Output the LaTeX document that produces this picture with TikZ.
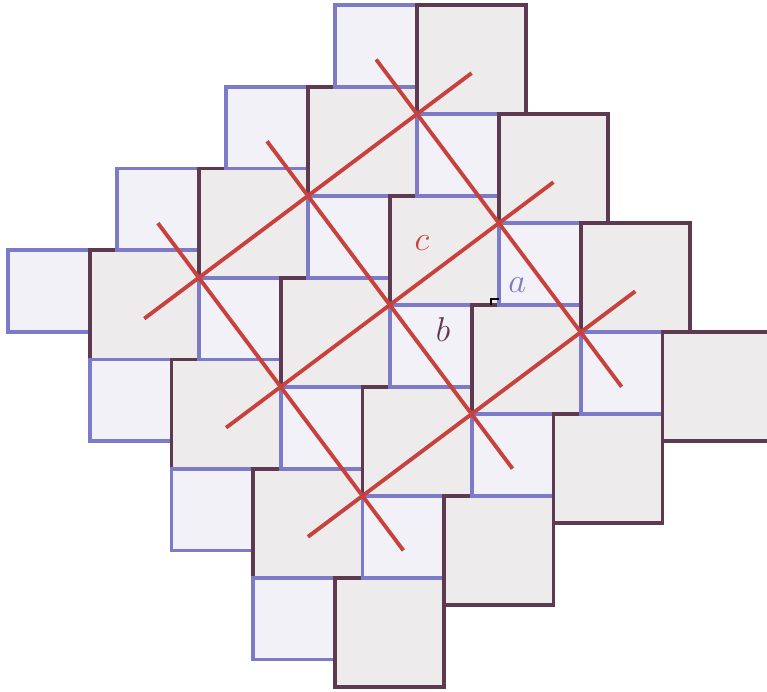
\RequirePackage{fix-cm}
\documentclass[tikz,border=0pt]{standalone}
\usepackage{amsmath,amssymb}
\usepackage{tikz}

\definecolor{bigline}{HTML}{5E3A50}
\definecolor{bigfill}{HTML}{EEEBEC}
\definecolor{smallline}{HTML}{7D7AC7}
\definecolor{smallfill}{HTML}{F1F1F7}
\definecolor{hypred}{HTML}{C8413C}

\tikzset{
  bigsq/.style={draw=bigline, fill=bigfill, line width=4pt},
  smallsq/.style={draw=smallline, fill=smallfill, line width=4pt},
  hyp/.style={draw=hypred, line width=4pt},
  lbl/.style={font=\fontsize{36}{40}\selectfont, inner sep=0pt}
}

\begin{document}
\begin{tikzpicture}
    \clip (-15.29,0.18) rectangle (12.83,-25.18);
    % tiles a^2 and b^2
    \foreach \j in {3,2,1,0}{
      \foreach \i in {0,...,3}{
        \draw[smallsq] ({3*\i-4*\j-3},{-4*\i-3*\j}) rectangle ++(3,-3);
        \draw[bigsq] ({3*\i-4*\j},{-4*\i-3*\j}) rectangle ++(4,-4);
      }
    }
    % the c^2 grid
    \foreach \k in {0,1,2}{
      \coordinate (p\k) at ({-1.5-4*\k},{-2-3*\k});
      \coordinate (q\k) at ({7.5-4*\k},{-14-3*\k});
      \coordinate (r\k) at ({3*\k+2},{-4*\k-2.5});
      \coordinate (s\k) at ({3*\k-10},{-4*\k-11.5});
      \draw[hyp] (p\k) -- (q\k);
      \draw[hyp] (r\k) -- (s\k);
    }
    \draw[line width=2.5pt] (2.71,-11) -- (2.71,-10.78) -- (3,-10.78);
    \node[lbl, text=hypred] (c) at (0.18,-8.72) {$c$};
    \node[lbl, text=smallline] (a) at (3.67,-10.26) {$a$};
    \node[lbl, text=bigline] (b) at (0.95,-11.91) {$b$};
\end{tikzpicture}
\end{document}
